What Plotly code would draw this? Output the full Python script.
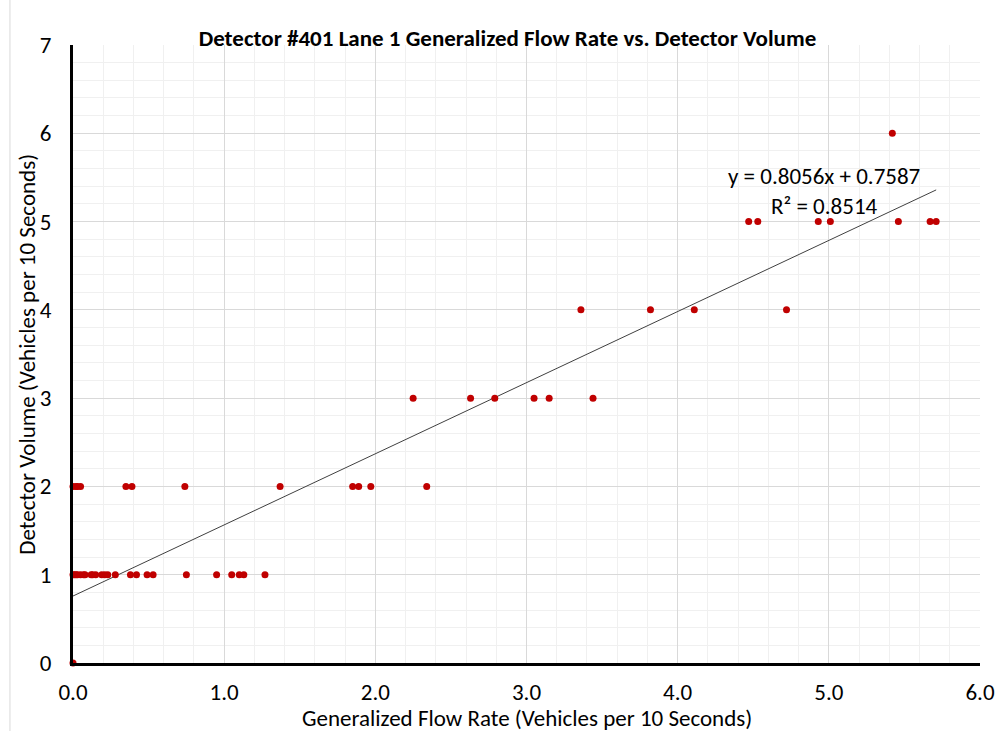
import plotly.graph_objects as go

# Data
flow_rate = [0.00, 0.02, 0.03, 0.05,
             0.35, 0.39, 0.74, 1.37, 1.85, 1.89, 1.97, 2.34,
             0.00, 0.01, 0.02, 0.03, 0.05, 0.07, 0.08, 0.12, 0.13, 0.15,
             0.19, 0.21, 0.23, 0.28, 0.38, 0.42, 0.49, 0.53, 0.75, 0.95,
             1.05, 1.10, 1.13, 1.27,
             0.00,
             2.25, 2.63, 2.79, 3.05, 3.15, 3.44,
             3.36, 3.82, 4.11, 4.72,
             4.47, 4.53, 4.93, 5.01, 5.46, 5.67, 5.71,
             5.42]
volume = [2, 2, 2, 2,
          2, 2, 2, 2, 2, 2, 2, 2,
          1, 1, 1, 1, 1, 1, 1, 1, 1, 1,
          1, 1, 1, 1, 1, 1, 1, 1, 1, 1,
          1, 1, 1, 1,
          0,
          3, 3, 3, 3, 3, 3,
          4, 4, 4, 4,
          5, 5, 5, 5, 5, 5, 5,
          6]
slope = 0.8056
intercept = 0.7587
r_squared = 0.8514

FONT = "Carlito, 'Liberation Sans Narrow', 'Noto Sans', sans-serif"

trend_x = [min(flow_rate), max(flow_rate)]
trend_y = [slope * v + intercept for v in trend_x]

fig = go.Figure()
fig.add_trace(go.Scatter(x=trend_x, y=trend_y, mode="lines",
                         line=dict(color="#404040", width=1), hoverinfo="skip",
                         showlegend=False))
fig.add_trace(go.Scatter(x=flow_rate, y=volume, mode="markers",
                         marker=dict(color="#c00000", size=7, line=dict(width=0)),
                         showlegend=False, cliponaxis=False))

fig.update_layout(
    width=999, height=731,
    margin=dict(l=73, r=19, t=45, b=68),
    paper_bgcolor="white", plot_bgcolor="white",
    font=dict(family=FONT, color="#000000"),
    title=dict(text="<b>Detector #401 Lane 1 Generalized Flow Rate vs. Detector Volume</b>",
               x=0.508, xanchor="center", y=0.948, yanchor="middle",
               font=dict(size=23, family=FONT)),
    xaxis=dict(range=[0, 6], dtick=1.0, tick0=0, tickformat=".1f", automargin=False,
               showgrid=True, gridcolor="#d9d9d9", gridwidth=1,
               minor=dict(dtick=0.2, showgrid=True, gridcolor="#f0f0f0", gridwidth=1),
               showline=True, linecolor="#000000", linewidth=3,
               zeroline=False, ticks="", ticklabelstandoff=6,
               tickfont=dict(size=23, family=FONT)),
    yaxis=dict(range=[0, 7], dtick=1, tick0=0, automargin=False,
               showgrid=True, gridcolor="#d9d9d9", gridwidth=1,
               minor=dict(dtick=0.2, showgrid=True, gridcolor="#f0f0f0", gridwidth=1),
               showline=True, linecolor="#000000", linewidth=3,
               zeroline=False, ticks="", ticklabelstandoff=14,
               tickfont=dict(size=23, family=FONT)),
    annotations=[
        dict(x=0.5, y=-0.089, xref="paper", yref="paper", xanchor="center", yanchor="middle",
             text="Generalized Flow Rate (Vehicles per 10 Seconds)", showarrow=False,
             font=dict(size=23, family=FONT, color="#000000")),
        dict(x=-0.051, y=0.5, xref="paper", yref="paper", xanchor="center", yanchor="middle",
             text="Detector Volume (Vehicles per 10 Seconds)", showarrow=False, textangle=-90,
             font=dict(size=23, family=FONT, color="#000000")),
        dict(x=4.97, y=5.345, xref="x", yref="y", xanchor="center", yanchor="middle",
             text=f"y = {slope:.4f}x + {intercept:.4f}<br>R² = {r_squared:.4f}",
             showarrow=False, align="center",
             font=dict(size=23, family=FONT, color="#000000")),
    ],
    shapes=[dict(type="line", xref="paper", yref="paper", x0=-0.0695, x1=-0.0695,
                 y0=-0.2, y1=1.2, line=dict(color="#d9d9d9", width=1))],
)

fig.write_html("out.html")
